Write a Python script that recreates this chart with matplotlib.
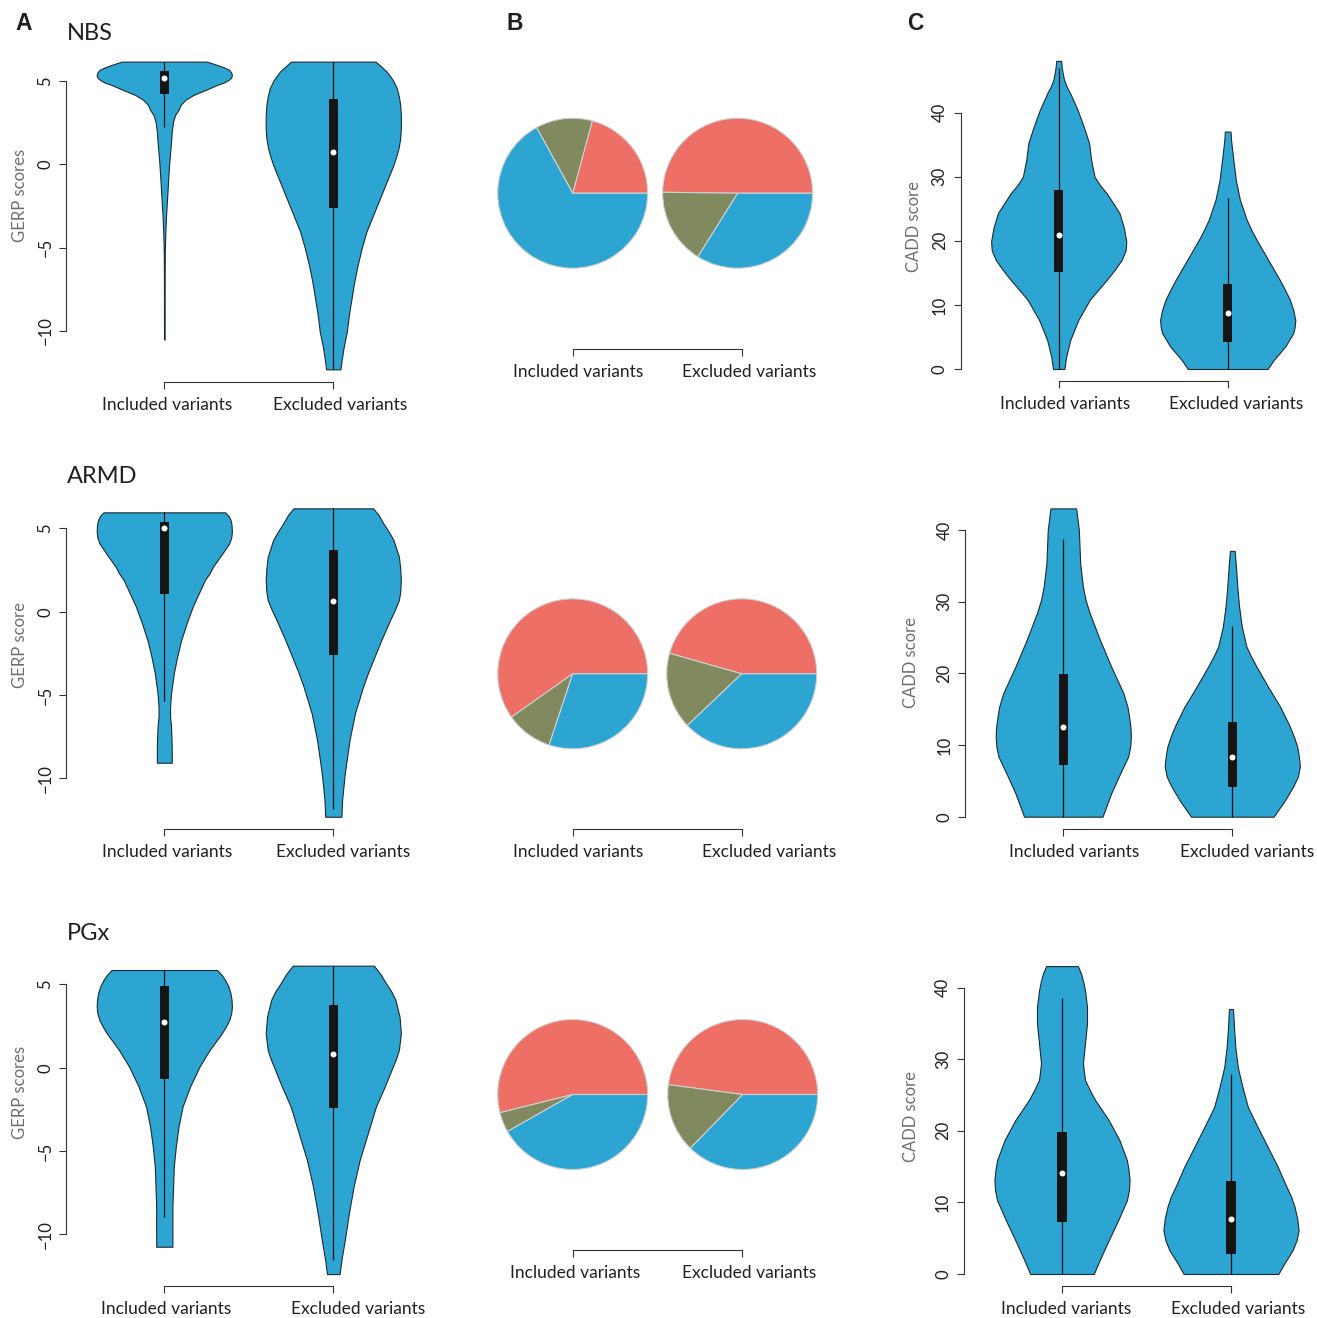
import matplotlib
matplotlib.use("Agg")
import matplotlib.pyplot as plt

plt.rcParams['font.family'] = ['Lato', 'DejaVu Sans']

# ---- violin profiles: (score levels, relative density) ----
# GERP, NBS
gerp_nbs_inc_y = [6.16, 5.96, 5.8, 5.66, 5.5, 5.36, 5.2, 5.06, 4.9, 4.76, 4.46, 4.16, 3.86,
                  3.56, 3.26, 2.96, 2.56, 1.96, 1.36, 0.86, -0.14, -1.14, -2.14, -3.14,
                  -4.14, -5.14, -7.0, -10.5]
gerp_nbs_inc_w = [0.63, 0.78, 0.89, 0.96, 0.99, 1.0, 0.99, 0.95, 0.88, 0.78, 0.61, 0.43,
                  0.31, 0.24, 0.21, 0.16, 0.13, 0.11, 0.10, 0.089, 0.069, 0.054, 0.04,
                  0.025, 0.015, 0.008, 0.005, 0.004]
gerp_nbs_inc_box = [2.26, 4.2, 5.2, 5.6, 6.16]   # whisker low, q1, median, q3, whisker high
gerp_nbs_exc_y = [6.16, 5.86, 5.56, 5.06, 4.56, 4.06, 3.56, 2.86, 2.16, 1.56, 0.96, 0.46,
                  -0.04, -1.04, -2.04, -3.04, -4.04, -5.04, -6.04, -7.04, -8.04, -9.04,
                  -10.04, -11.04, -11.84, -12.3]
gerp_nbs_exc_w = [0.625, 0.71, 0.79, 0.88, 0.94, 0.97, 0.99, 1.0, 1.0, 0.99, 0.965, 0.93,
                  0.89, 0.79, 0.69, 0.59, 0.49, 0.42, 0.36, 0.31, 0.27, 0.23, 0.20, 0.15,
                  0.12, 0.106]
gerp_nbs_exc_box = [-12.3, -2.6, 0.76, 3.92, 6.16]

# GERP, ARMD
gerp_armd_inc_y = [5.96, 5.75, 5.5, 5.2, 4.8, 4.45, 4.1, 3.5, 2.7, 2.3, 1.9, 1.1, 0.3, -0.7,
                   -1.7, -2.7, -3.7, -4.9, -5.7, -6.3, -6.9, -7.5, -8.1, -9.06]
gerp_armd_inc_w = [0.90, 0.95, 0.98, 0.995, 1.0, 0.99, 0.96, 0.86, 0.72, 0.67, 0.60, 0.51,
                   0.42, 0.33, 0.25, 0.19, 0.14, 0.10, 0.085, 0.085, 0.10, 0.105, 0.11, 0.11]
gerp_armd_inc_box = [-5.34, 1.06, 5.0, 5.4, 5.96]
gerp_armd_exc_y = [6.2, 5.8, 5.3, 4.8, 4.3, 3.3, 2.6, 1.9, 1.2, 0.7, 0.1, -0.5, -1.1, -1.7,
                   -2.9, -3.7, -4.5, -6.1, -7.7, -9.7, -11.3, -12.3]
gerp_armd_exc_w = [0.59, 0.67, 0.74, 0.82, 0.89, 0.97, 0.99, 1.0, 0.99, 0.97, 0.91, 0.84,
                   0.775, 0.71, 0.59, 0.51, 0.44, 0.32, 0.24, 0.17, 0.13, 0.12]
gerp_armd_exc_box = [-11.86, -2.6, 0.62, 3.7, 6.2]

# GERP, PGx
gerp_pgx_inc_y = [5.86, 5.56, 5.26, 4.86, 4.46, 4.06, 3.66, 3.26, 2.86, 2.46, 2.06, 1.06,
                  0.06, -1.14, -2.34, -3.54, -4.74, -5.94, -7.14, -8.34, -9.94, -10.74]
gerp_pgx_inc_w = [0.78, 0.85, 0.90, 0.95, 0.98, 0.995, 1.0, 0.99, 0.96, 0.91, 0.85, 0.67,
                  0.52, 0.38, 0.27, 0.21, 0.17, 0.14, 0.13, 0.12, 0.12, 0.12]
gerp_pgx_inc_box = [-8.98, -0.68, 2.76, 4.92, 5.86]
gerp_pgx_exc_y = [6.12, 5.6, 5.06, 4.56, 4.06, 3.06, 2.06, 1.06, 0.56, 0.06, -1.14, -2.34,
                  -3.94, -5.54, -7.14, -8.74, -10.34, -11.54, -12.38]
gerp_pgx_exc_w = [0.60, 0.70, 0.78, 0.86, 0.92, 0.98, 1.0, 0.97, 0.93, 0.88, 0.76, 0.63,
                  0.51, 0.39, 0.30, 0.23, 0.17, 0.12, 0.093]
gerp_pgx_exc_box = [-11.54, -2.4, 0.82, 3.76, 6.12]

# CADD, NBS
cadd_nbs_inc_y = [48.07, 47.2, 46.2, 45.1, 44.0, 43.0, 41.7, 40.4, 37.8, 35.2, 32.6, 30.0,
                  28.7, 27.4, 25.8, 24.3, 22.0, 19.9, 18.5, 17.0, 15.5, 13.9, 12.3, 10.8,
                  7.65, 4.5, 1.9, 0]
cadd_nbs_inc_w = [0.037, 0.044, 0.058, 0.079, 0.12, 0.17, 0.225, 0.28, 0.37, 0.45, 0.48,
                  0.53, 0.61, 0.71, 0.81, 0.90, 0.965, 1.0, 0.99, 0.93, 0.83, 0.71, 0.58,
                  0.46, 0.29, 0.17, 0.11, 0.084]
cadd_nbs_inc_box = [0, 15.19, 20.86, 27.94, 46.93]
cadd_nbs_exc_y = [37.04, 35.7, 32.6, 29.5, 26.4, 23.3, 21.7, 20.1, 17.0, 13.9, 12.3, 10.8,
                  9.2, 7.65, 6.5, 5.6, 3.5, 1.4, 0]
cadd_nbs_exc_w = [0.042, 0.05, 0.084, 0.12, 0.18, 0.28, 0.35, 0.43, 0.60, 0.77, 0.85, 0.92,
                  0.97, 1.0, 0.99, 0.97, 0.85, 0.68, 0.59]
cadd_nbs_exc_box = [0, 4.27, 8.69, 13.27, 26.74]

# CADD, ARMD
cadd_armd_inc_y = [43.0, 40, 35.3, 32.1, 30.2, 28.4, 24.7, 20.9, 17.2, 15.3, 13.5, 12.3,
                   11.2, 9.8, 8.4, 6.0, 3.3, 0]
cadd_armd_inc_w = [0.19, 0.23, 0.25, 0.29, 0.33, 0.39, 0.54, 0.71, 0.89, 0.95, 0.98, 0.995,
                   1.0, 0.99, 0.96, 0.84, 0.71, 0.58]
cadd_armd_inc_box = [0, 7.2, 12.56, 19.9, 38.7]
cadd_armd_exc_y = [37.07, 34.9, 32.1, 29.3, 26.5, 23.7, 22.3, 20.9, 18.1, 15.3, 12.6, 11.2,
                   9.8, 8.4, 7.0, 5.6, 4.2, 2.3, 0]
cadd_armd_exc_w = [0.035, 0.054, 0.074, 0.10, 0.14, 0.21, 0.28, 0.36, 0.53, 0.71, 0.85,
                   0.91, 0.96, 0.985, 1.0, 0.97, 0.90, 0.78, 0.61]
cadd_armd_exc_box = [0, 4.19, 8.28, 13.16, 26.65]

# CADD, PGx
cadd_pgx_inc_y = [43.0, 42, 40.8, 39.6, 37.3, 35, 32.2, 29.4, 27.1, 25.7, 24.3, 21.5, 18.7,
                  15.9, 14.5, 13.1, 11.7, 10.3, 7.5, 4.7, 2.0, 0]
cadd_pgx_inc_w = [0.235, 0.28, 0.315, 0.34, 0.37, 0.37, 0.34, 0.31, 0.34, 0.41, 0.49, 0.69,
                  0.85, 0.96, 0.985, 1.0, 0.99, 0.96, 0.83, 0.69, 0.56, 0.47]
cadd_pgx_inc_box = [0, 7.3, 14.05, 19.86, 38.56]
cadd_pgx_exc_y = [37.0, 34.5, 31.7, 28.9, 26.1, 23.3, 20.6, 17.8, 15.0, 12.2, 10.8, 9.4,
                  7.7, 6.1, 4.7, 3.3, 1.5, 0]
cadd_pgx_exc_w = [0.03, 0.044, 0.064, 0.10, 0.17, 0.25, 0.39, 0.54, 0.69, 0.82, 0.89, 0.94,
                  0.98, 1.0, 0.97, 0.91, 0.79, 0.70]
cadd_pgx_exc_box = [0, 2.79, 7.63, 12.98, 28.0]

# pie shares (%): red, green, blue
pie_nbs_inc = [20.8, 12.2, 67.0]
pie_nbs_exc = [49.8, 16.3, 33.9]
pie_armd_inc = [59.8, 10.1, 30.1]
pie_armd_exc = [45.6, 16.5, 37.9]
pie_pgx_inc = [53.9, 4.3, 41.8]
pie_pgx_exc = [47.9, 14.8, 37.3]

groups = ['Included variants', 'Excluded variants']
studies = ['NBS', 'ARMD', 'PGx']
gerp_ylabels = ['GERP scores', 'GERP score', 'GERP scores']

BLUE = '#2ca5d3'
RED = '#ed6f66'
GREEN = '#81895e'
INK = '#231f20'
GREY = '#6d6e71'

W, H = 1317, 1318
UNIT = 169.0  # px between the two groups
fig = plt.figure(figsize=(W / 100, H / 100), dpi=100)


def px_axes(left, top, right, bottom):
    return fig.add_axes([left / W, 1 - bottom / H, (right - left) / W, (bottom - top) / H])


def style_axes(ax):
    for sp in ['top', 'right']:
        ax.spines[sp].set_visible(False)
    for sp in ['left', 'bottom']:
        ax.spines[sp].set_linewidth(0.8)
        ax.spines[sp].set_color('#333333')
    ax.tick_params(direction='out', length=4.8, width=0.8, color='#333333',
                   pad=4.5, labelsize=12, labelcolor=INK)
    ax.patch.set_alpha(0)


def group_labels(ax, shifts):
    for i, g in enumerate(groups):
        ax.annotate(g, xy=(1 + i + shifts[i] / UNIT, 0), xycoords=('data', 'axes fraction'),
                    xytext=(0, -20.2), textcoords='offset points',
                    ha='center', va='baseline', fontsize=12.5, color=INK)


def violin_panel(c1, px0, s, profiles, boxes, yticks, shifts):
    lo = min(min(p[0]) for p in profiles)
    hi = max(max(p[0]) for p in profiles)
    ext = 0.04 * (hi - lo)
    ylo, yhi = lo - ext, hi + ext
    left = c1 - 0.58 * UNIT
    ax = px_axes(left, px0 - s * yhi, left + 2.16 * UNIT, px0 - s * ylo)
    ax.set_xlim(0.42, 2.58)
    ax.set_ylim(ylo, yhi)
    for i, ((yv, wv), b) in enumerate(zip(profiles, boxes)):
        pos = 1 + i
        half = [0.4 * w for w in wv]
        ax.fill_betweenx(yv, [pos - h for h in half], [pos + h for h in half],
                         facecolor=BLUE, edgecolor='#1d2b33', linewidth=0.8,
                         joinstyle='round', zorder=2)
        ax.vlines(pos, b[0], b[4], color='#111111', linewidth=0.9, zorder=3)
        ax.bar(pos, b[3] - b[1], bottom=b[1], width=0.055, color='#151515', zorder=4)
        ax.plot(pos, b[2], 'o', color='white', markersize=4.3, markeredgewidth=0, zorder=5)
    style_axes(ax)
    ax.spines['left'].set_bounds(yticks[0], yticks[-1])
    ax.spines['bottom'].set_bounds(1, 2)
    ax.set_yticks(yticks)
    ax.set_xticks([1, 2])
    ax.set_xticklabels([])
    for t in ax.get_yticklabels():
        t.set_rotation(90)
        t.set_va('center')
    group_labels(ax, shifts)
    return ax


def pie_panel(bottom, pies, x2, shifts):
    left = 572.7 - 0.58 * UNIT
    top = bottom - 300
    ax = px_axes(left, top, left + 2.16 * UNIT, bottom)
    for pos, vals in zip([1.0, x2], pies):
        ax.pie(vals, colors=[RED, GREEN, BLUE], center=(pos, 0.92), radius=75 / UNIT,
               startangle=0, counterclock=True, frame=True,
               wedgeprops=dict(edgecolor='#d0d0d0', linewidth=0.8))
    ax.set_aspect('auto')
    ax.set_xlim(0.42, 2.58)
    ax.set_ylim(0, 300 / UNIT)
    style_axes(ax)
    ax.spines['left'].set_visible(False)
    ax.spines['bottom'].set_bounds(1, 2)
    ax.set_yticks([])
    ax.set_xticks([1, 2])
    ax.set_xticklabels([])
    group_labels(ax, shifts)
    return ax


gerp = [
    ([(gerp_nbs_inc_y, gerp_nbs_inc_w), (gerp_nbs_exc_y, gerp_nbs_exc_w)],
     [gerp_nbs_inc_box, gerp_nbs_exc_box]),
    ([(gerp_armd_inc_y, gerp_armd_inc_w), (gerp_armd_exc_y, gerp_armd_exc_w)],
     [gerp_armd_inc_box, gerp_armd_exc_box]),
    ([(gerp_pgx_inc_y, gerp_pgx_inc_w), (gerp_pgx_exc_y, gerp_pgx_exc_w)],
     [gerp_pgx_inc_box, gerp_pgx_exc_box]),
]
cadd = [
    ([(cadd_nbs_inc_y, cadd_nbs_inc_w), (cadd_nbs_exc_y, cadd_nbs_exc_w)],
     [cadd_nbs_inc_box, cadd_nbs_exc_box]),
    ([(cadd_armd_inc_y, cadd_armd_inc_w), (cadd_armd_exc_y, cadd_armd_exc_w)],
     [cadd_armd_inc_box, cadd_armd_exc_box]),
    ([(cadd_pgx_inc_y, cadd_pgx_inc_w), (cadd_pgx_exc_y, cadd_pgx_exc_w)],
     [cadd_pgx_inc_box, cadd_pgx_exc_box]),
]
pies = [(pie_nbs_inc, pie_nbs_exc), (pie_armd_inc, pie_armd_exc), (pie_pgx_inc, pie_pgx_exc)]

# layout (pixels)
gerp_zero = [164.3, 611.7, 1067.7]
gerp_shift = [(3, 7), (3, 10), (2, 25)]
gerp_ylab_y = [195, 645, 1092]
cadd_c1 = [1058.7, 1063.3, 1062.0]
cadd_zero = [369.0, 816.7, 1274.0]
cadd_scale = [6.41, 7.17, 7.16]
cadd_shift = [(6, 8), (11, 15), (4, 7)]
cadd_ylab = [(919, 226), (916, 662), (916, 1116)]
pie_bottom = [348.7, 829.3, 1250.0]
pie_x2 = [1.976, 2.0, 2.006]
pie_shift = [(5, 7), (5, 27), (2, 7)]
title_base = [40, 483, 940]

for r in range(3):
    violin_panel(164.3, gerp_zero[r], 16.67, gerp[r][0], gerp[r][1], [-10, -5, 0, 5],
                 gerp_shift[r])
    fig.text(25 / W, 1 - gerp_ylab_y[r] / H, gerp_ylabels[r], rotation=90,
             rotation_mode='anchor', ha='center', va='baseline', fontsize=12, color=GREY)
    violin_panel(cadd_c1[r], cadd_zero[r], cadd_scale[r], cadd[r][0], cadd[r][1],
                 [0, 10, 20, 30, 40], cadd_shift[r])
    fig.text(cadd_ylab[r][0] / W, 1 - cadd_ylab[r][1] / H, 'CADD score', rotation=90,
             rotation_mode='anchor', ha='center', va='baseline', fontsize=12, color=GREY)
    pie_panel(pie_bottom[r], pies[r], pie_x2[r], pie_shift[r])
    fig.text(66.7 / W, 1 - title_base[r] / H, studies[r], ha='left', va='baseline',
             fontsize=17, color=INK)

for letter, x in zip(['A', 'B', 'C'], [15, 506.7, 906.7]):
    fig.text(x / W, 1 - 30 / H, letter, ha='left', va='baseline', fontsize=16.5,
             fontweight='bold', family='Liberation Sans', color=INK)

fig.savefig('out.png', dpi=100)
